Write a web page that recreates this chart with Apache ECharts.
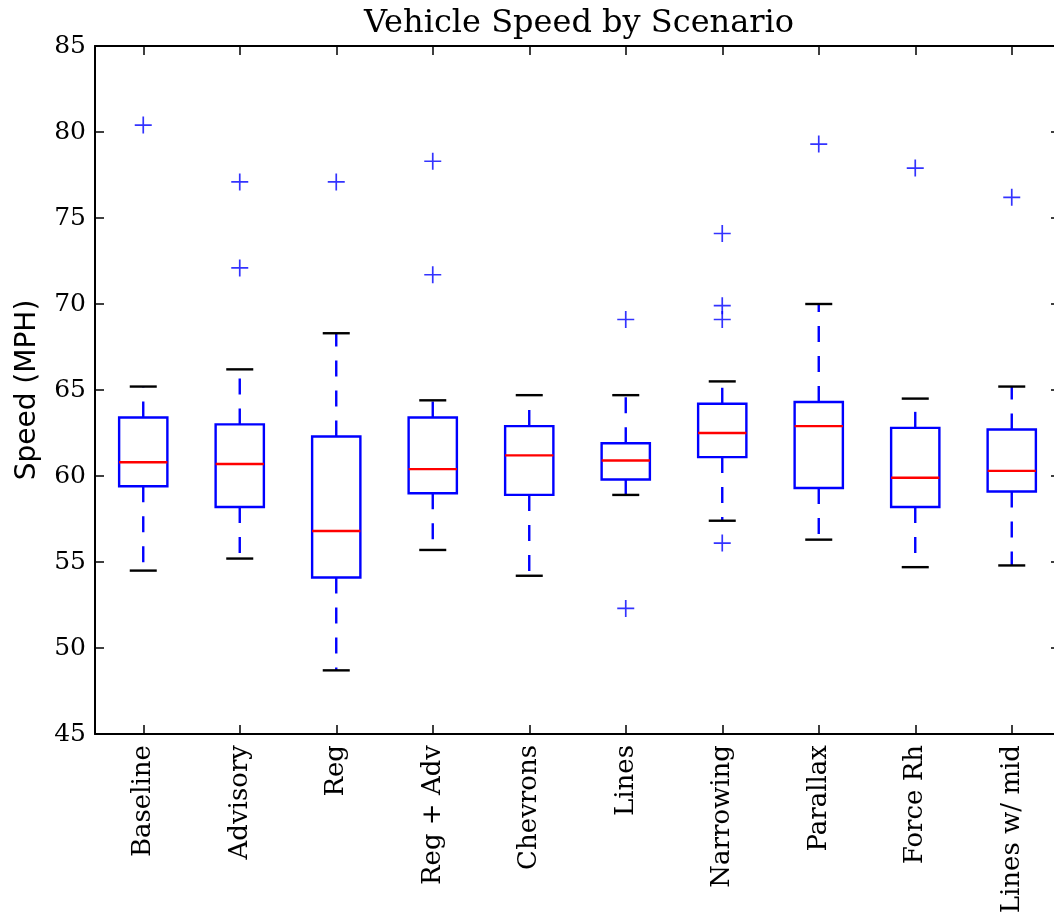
<!DOCTYPE html>
<html>
<head>
<meta charset="utf-8">
<script src="https://cdn.jsdelivr.net/npm/echarts@6/dist/echarts.min.js"></script>
<style>
html,body{margin:0;padding:0;background:#fff;}
#main{width:1054px;height:917px;}
</style>
</head>
<body>
<div id="main"></div>
<script>
// ---- data ----
const categories = ['Baseline', 'Advisory', 'Reg', 'Reg + Adv', 'Chevrons', 'Lines', 'Narrowing', 'Parallax', 'Force Rh', 'Lines w/ mid'];
const whiskerLow  = [54.5, 55.2, 48.7, 55.7, 54.2, 58.9, 57.4, 56.3, 54.7, 54.8];
const q1          = [59.4, 58.2, 54.1, 59.0, 58.9, 59.8, 61.1, 59.3, 58.2, 59.1];
const median      = [60.8, 60.7, 56.8, 60.4, 61.2, 60.9, 62.5, 62.9, 59.9, 60.3];
const q3          = [63.4, 63.0, 62.3, 63.4, 62.9, 61.9, 64.2, 64.3, 62.8, 62.7];
const whiskerHigh = [65.2, 66.2, 68.3, 64.4, 64.7, 64.7, 65.5, 70.0, 64.5, 65.2];
const outliers = [
  ['Baseline', 80.4],
  ['Advisory', 77.1], ['Advisory', 72.1],
  ['Reg', 77.1],
  ['Reg + Adv', 78.3], ['Reg + Adv', 71.7],
  ['Lines', 69.1], ['Lines', 52.3],
  ['Narrowing', 74.1], ['Narrowing', 69.9], ['Narrowing', 69.1], ['Narrowing', 56.1],
  ['Parallax', 79.3],
  ['Force Rh', 77.9],
  ['Lines w/ mid', 76.2]
];
const yTicks = { min: 45, max: 85, interval: 5 };

// ---- build ----
const boxData = categories.map((c, i) => [i, whiskerLow[i], q1[i], median[i], q3[i], whiskerHigh[i]]);
const outlierData = outliers.map(o => [categories.indexOf(o[0]), o[1]]);

const BLUE = '#0000ff', RED = '#ff0000', BLACK = '#000000';
const serif = "'DejaVu Serif', serif";

function renderBox(params, api) {
  const i = api.value(0);
  const band = api.size([1, 0])[0];
  const half = band * 0.25;
  const capHalf = band * 0.14;
  const pLow = api.coord([i, api.value(1)]);
  const pQ1 = api.coord([i, api.value(2)]);
  const pMed = api.coord([i, api.value(3)]);
  const pQ3 = api.coord([i, api.value(4)]);
  const pHigh = api.coord([i, api.value(5)]);
  const x = pQ1[0];
  const dash = { stroke: BLUE, lineWidth: 2.4, lineDash: [16, 14] };
  return {
    type: 'group',
    children: [
      { type: 'line', shape: { x1: x, y1: pQ1[1], x2: x, y2: pLow[1] }, style: dash },
      { type: 'line', shape: { x1: x, y1: pQ3[1], x2: x, y2: pHigh[1] }, style: dash },
      { type: 'line', shape: { x1: x - capHalf, y1: pLow[1], x2: x + capHalf, y2: pLow[1] }, style: { stroke: BLACK, lineWidth: 2.4 } },
      { type: 'line', shape: { x1: x - capHalf, y1: pHigh[1], x2: x + capHalf, y2: pHigh[1] }, style: { stroke: BLACK, lineWidth: 2.4 } },
      { type: 'rect', shape: { x: x - half, y: pQ3[1], width: half * 2, height: pQ1[1] - pQ3[1] }, style: { fill: 'none', stroke: BLUE, lineWidth: 2.4 } },
      { type: 'line', shape: { x1: x - half, y1: pMed[1], x2: x + half, y2: pMed[1] }, style: { stroke: RED, lineWidth: 2.4 } }
    ]
  };
}

const chart = echarts.init(document.getElementById('main'), null, { renderer: 'canvas' });
const tickStyle = { show: true, inside: true, length: 9, lineStyle: { color: BLACK, width: 1.5 } };
const lineStyle = { show: true, lineStyle: { color: BLACK, width: 2 } };

chart.setOption({
  backgroundColor: '#ffffff',
  animation: false,
  title: {
    text: 'Vehicle Speed by Scenario',
    left: 579, top: 8, textAlign: 'center', padding: 0,
    textStyle: { fontFamily: serif, fontSize: 32, fontWeight: 'normal', color: BLACK }
  },
  grid: { left: 95, top: 46, width: 965, height: 688, containLabel: false, outerBoundsMode: 'none' },
  xAxis: [
    {
      type: 'category', data: categories, position: 'bottom', boundaryGap: true,
      axisLine: lineStyle,
      axisTick: Object.assign({ alignWithLabel: true }, tickStyle),
      axisLabel: { rotate: 90, margin: 11, fontFamily: serif, fontSize: 26, color: BLACK, interval: 0 },
      splitLine: { show: false }
    },
    {
      type: 'category', data: categories, position: 'top', boundaryGap: true,
      axisLine: lineStyle,
      axisTick: Object.assign({ alignWithLabel: true }, tickStyle),
      axisLabel: { show: false },
      splitLine: { show: false }
    }
  ],
  yAxis: [
    {
      type: 'value', min: yTicks.min, max: yTicks.max, interval: yTicks.interval, position: 'left',
      name: 'Speed (MPH)', nameLocation: 'middle', nameGap: 53,
      nameTextStyle: { fontFamily: "'DejaVu Sans', sans-serif", fontSize: 28, color: BLACK },
      axisLine: lineStyle, axisTick: tickStyle,
      axisLabel: { margin: 9, fontFamily: serif, fontSize: 25, color: BLACK },
      splitLine: { show: false }
    },
    {
      type: 'value', min: yTicks.min, max: yTicks.max, interval: yTicks.interval, position: 'right',
      axisLine: lineStyle, axisTick: tickStyle,
      axisLabel: { show: false }, splitLine: { show: false }
    }
  ],
  series: [
    {
      type: 'custom', name: 'box', xAxisIndex: 0, yAxisIndex: 0,
      renderItem: renderBox, data: boxData, encode: { x: 0, y: [1, 2, 3, 4, 5] }, z: 3
    },
    {
      type: 'scatter', name: 'outliers', xAxisIndex: 0, yAxisIndex: 0,
      data: outlierData,
      symbol: 'path://M7.2,0H8.8V7.2H16V8.8H8.8V16H7.2V8.8H0V7.2H7.2Z',
      symbolSize: 17,
      itemStyle: { color: BLUE }, z: 4
    }
  ]
});
</script>
</body>
</html>
